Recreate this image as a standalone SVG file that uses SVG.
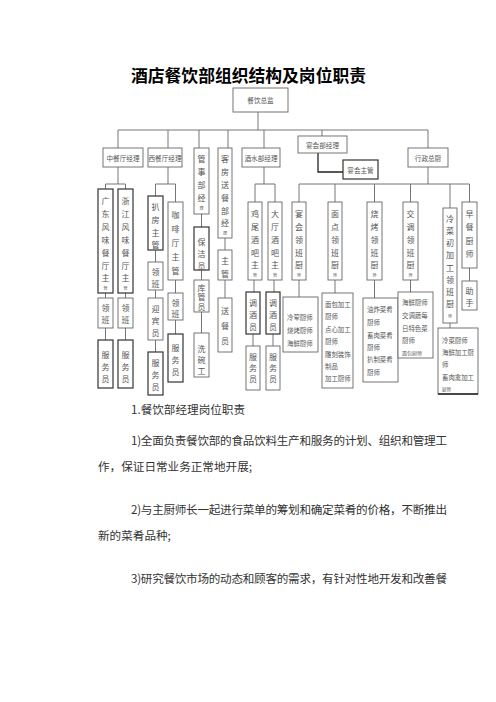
<svg xmlns="http://www.w3.org/2000/svg" width="496" height="702" viewBox="0 0 496 702">
<style>
.b{fill:#fff;stroke:#666;stroke-width:0.9}
.k{fill:#fff;stroke:#333;stroke-width:1.2}
.c{fill:none;stroke:#666;stroke-width:0.9}
.t{font-family:"Noto Sans CJK SC","Noto Sans CJK TC",sans-serif;font-size:8px;fill:#555;text-anchor:middle;dominant-baseline:central}
.h{font-size:6.6px}
.s{font-size:4px}
.d{font-family:"Noto Sans CJK SC",sans-serif;font-size:6.4px;fill:#555;dominant-baseline:central}
.p{font-family:"Noto Sans CJK SC",sans-serif;font-size:11.6px;fill:#333;dominant-baseline:central}
</style>
<rect width="496" height="702" fill="#fff"/>
<text x="248.5" y="75" text-anchor="middle" dominant-baseline="central" font-family="Noto Sans CJK SC,sans-serif" font-weight="bold" font-size="16.8" textLength="235" fill="#000">酒店餐饮部组织结构及岗位职责</text>

<g id="connectors" class="c">
<path d="M258 112V130M118 130H428M118 130V148M168 130V148M199 130V148M228 130V148M264 130V148M322 130V136M428 130V148"/>
<path d="M118 167V184M105.5 184H125.5M105.5 184V189M125.5 184V189M105.5 293V298M125.5 293V298M105.5 328V340M125.5 328V340"/>
<path d="M168 167V184M155.5 184H175.5M155.5 184V196M175.5 184V202M155.5 250V262M155.5 290V298M155.5 340V352M175.5 280V293M175.5 320V334"/>
<path d="M201.5 214V227M201.5 270V280M201.5 312V333M225 238V250M225 280V298"/>
<path d="M264 167V184M255 184H275M255 184V202M275 184V202M254 280V292M274 280V292M253 334V346M273 334V346"/>
<path d="M428 167V184M299 184H469.5M299 184V202M335 184V202M374.5 184V202M410.5 184V202M450 184V208M469.5 184V202"/>
<path d="M299 280V297M335 280V293M374.5 280V298M410.5 280V292M450 323V328M469.5 268V281"/>
<path d="M318 153V172H343" stroke="#222" stroke-width="1.3"/>
</g>

<g id="n-zongjian"><rect class="b" x="233" y="88" width="55" height="24"/><text class="t h" x="260.5" y="100">餐饮总监</text></g>
<g id="n-zhongcan"><rect class="b" x="103" y="148" width="40" height="19"/><text class="t h" x="123" y="157.5">中餐厅经理</text></g>
<g id="n-xican"><rect class="b" x="148" y="148" width="34" height="19"/><text class="t h" x="165" y="157.5">西餐厅经理</text></g>
<g id="n-guanshi"><rect class="b" x="194" y="148" width="15" height="66"/><text class="t"><tspan x="201.5" y="158">管</tspan><tspan x="201.5" y="171">事</tspan><tspan x="201.5" y="184">部</tspan><tspan x="201.5" y="197">经</tspan><tspan class="s" x="201.5" y="208">理</tspan></text></g>
<g id="n-kefang"><rect class="b" x="218" y="148" width="14" height="90"/><text class="t"><tspan x="225" y="158">客</tspan><tspan x="225" y="171">房</tspan><tspan x="225" y="184">送</tspan><tspan x="225" y="197">餐</tspan><tspan x="225" y="210">部</tspan><tspan x="225" y="222">经</tspan><tspan class="s" x="225" y="233">理</tspan></text></g>
<g id="n-jiushui"><rect class="b" x="242" y="148" width="38" height="19"/><text class="t h" x="261" y="157.5">酒水部经理</text></g>
<g id="n-yanhui"><rect class="b" x="298" y="136" width="49" height="17"/><text class="t h" x="322.5" y="144.5">宴会部经理</text></g>
<g id="n-yanhuizhuguan"><rect class="k" x="343" y="160" width="35" height="19"/><text class="t h" x="360.5" y="169.5">宴会主管</text></g>
<g id="n-xingzheng"><rect class="b" x="408" y="148" width="40" height="19"/><text class="t h" x="428" y="157.5">行政总厨</text></g>

<g id="n-guangdong"><rect class="k" x="98" y="189" width="15" height="104"/><text class="t"><tspan x="105.5" y="200">广</tspan><tspan x="105.5" y="213">东</tspan><tspan x="105.5" y="226">风</tspan><tspan x="105.5" y="239">味</tspan><tspan x="105.5" y="252">餐</tspan><tspan x="105.5" y="265">厅</tspan><tspan x="105.5" y="277">主</tspan><tspan class="s" x="105.5" y="288">管</tspan></text></g>
<g id="n-zhejiang"><rect class="k" x="118" y="189" width="15" height="104"/><text class="t"><tspan x="125.5" y="200">浙</tspan><tspan x="125.5" y="213">江</tspan><tspan x="125.5" y="226">风</tspan><tspan x="125.5" y="239">味</tspan><tspan x="125.5" y="252">餐</tspan><tspan x="125.5" y="265">厅</tspan><tspan x="125.5" y="277">主</tspan><tspan class="s" x="125.5" y="288">管</tspan></text></g>
<g id="n-lingban1"><rect class="b" x="98" y="298" width="15" height="30"/><text class="t"><tspan x="105.5" y="307">领</tspan><tspan x="105.5" y="319">班</tspan></text></g>
<g id="n-lingban2"><rect class="b" x="118" y="298" width="15" height="30"/><text class="t"><tspan x="125.5" y="307">领</tspan><tspan x="125.5" y="319">班</tspan></text></g>
<g id="n-fuwu1"><rect class="k" x="98" y="340" width="15" height="48"/><text class="t"><tspan x="105.5" y="354">服</tspan><tspan x="105.5" y="366">务</tspan><tspan x="105.5" y="378">员</tspan></text></g>
<g id="n-fuwu2"><rect class="k" x="118" y="340" width="15" height="48"/><text class="t"><tspan x="125.5" y="354">服</tspan><tspan x="125.5" y="366">务</tspan><tspan x="125.5" y="378">员</tspan></text></g>

<g id="n-pafang"><rect class="k" x="148" y="196" width="15" height="54"/><text class="t"><tspan x="155.5" y="206">扒</tspan><tspan x="155.5" y="219">房</tspan><tspan x="155.5" y="232">主</tspan><tspan x="155.5" y="244">管</tspan></text></g>
<g id="n-lingban3"><rect class="b" x="148" y="262" width="15" height="28"/><text class="t"><tspan x="155.5" y="271">领</tspan><tspan x="155.5" y="283">班</tspan></text></g>
<g id="n-yingbin"><rect class="b" x="148" y="298" width="15" height="42"/><text class="t"><tspan x="155.5" y="308">迎</tspan><tspan x="155.5" y="320">宾</tspan><tspan x="155.5" y="332">员</tspan></text></g>
<g id="n-fuwu3"><rect class="k" x="148" y="352" width="15" height="43"/><text class="t"><tspan x="155.5" y="362">服</tspan><tspan x="155.5" y="374">务</tspan><tspan x="155.5" y="386">员</tspan></text></g>
<g id="n-kafei"><rect class="b" x="168" y="202" width="15" height="78"/><text class="t"><tspan x="175.5" y="214">咖</tspan><tspan x="175.5" y="228">啡</tspan><tspan x="175.5" y="242">厅</tspan><tspan x="175.5" y="256">主</tspan><tspan x="175.5" y="270">管</tspan></text></g>
<g id="n-lingban4"><rect class="b" x="168" y="293" width="15" height="27"/><text class="t"><tspan x="175.5" y="302">领</tspan><tspan x="175.5" y="313">班</tspan></text></g>
<g id="n-fuwu4"><rect class="k" x="168" y="334" width="15" height="48"/><text class="t"><tspan x="175.5" y="347">服</tspan><tspan x="175.5" y="359">务</tspan><tspan x="175.5" y="371">员</tspan></text></g>

<g id="n-baojie"><rect class="k" x="194" y="227" width="15" height="43"/><text class="t"><tspan x="201.5" y="241">保</tspan><tspan x="201.5" y="253">洁</tspan><tspan x="201.5" y="265">员</tspan></text></g>
<g id="n-kuguan"><rect class="b" x="194" y="280" width="15" height="32"/><text class="t" font-size="6.2"><tspan x="201.5" y="286.5">库</tspan><tspan x="201.5" y="296">管</tspan><tspan x="201.5" y="305.5">员</tspan></text></g>
<g id="n-xiwan"><rect class="b" x="194" y="333" width="15" height="44"/><text class="t"><tspan x="201.5" y="348">洗</tspan><tspan x="201.5" y="359">碗</tspan><tspan x="201.5" y="370">工</tspan></text></g>
<g id="n-zhuguan"><rect class="b" x="218" y="250" width="14" height="30"/><text class="t"><tspan x="225" y="260">主</tspan><tspan x="225" y="273">管</tspan></text></g>
<g id="n-songcan"><rect class="b" x="218" y="298" width="14" height="54"/><text class="t"><tspan x="225" y="310">送</tspan><tspan x="225" y="325">餐</tspan><tspan x="225" y="340">员</tspan></text></g>

<g id="n-jiwei"><rect class="b" x="248" y="202" width="14" height="78"/><text class="t"><tspan x="255" y="213">鸡</tspan><tspan x="255" y="226">尾</tspan><tspan x="255" y="239">酒</tspan><tspan x="255" y="252">吧</tspan><tspan x="255" y="264">主</tspan><tspan class="s" x="255" y="275">管</tspan></text></g>
<g id="n-dating"><rect class="b" x="268" y="202" width="14" height="78"/><text class="t"><tspan x="275" y="213">大</tspan><tspan x="275" y="226">厅</tspan><tspan x="275" y="239">酒</tspan><tspan x="275" y="252">吧</tspan><tspan x="275" y="264">主</tspan><tspan class="s" x="275" y="275">管</tspan></text></g>
<g id="n-tiaojiu1"><rect class="k" x="246" y="292" width="14" height="42"/><text class="t"><tspan x="253" y="302">调</tspan><tspan x="253" y="314">酒</tspan><tspan x="253" y="326">员</tspan></text></g>
<g id="n-tiaojiu2"><rect class="k" x="266" y="292" width="14" height="42"/><text class="t"><tspan x="273" y="302">调</tspan><tspan x="273" y="314">酒</tspan><tspan x="273" y="326">员</tspan></text></g>
<g id="n-fuwu5"><rect class="b" x="246" y="346" width="14" height="44"/><text class="t"><tspan x="253" y="356">服</tspan><tspan x="253" y="367">务</tspan><tspan x="253" y="378">员</tspan></text></g>
<g id="n-fuwu6"><rect class="b" x="266" y="346" width="14" height="44"/><text class="t"><tspan x="273" y="356">服</tspan><tspan x="273" y="367">务</tspan><tspan x="273" y="378">员</tspan></text></g>

<g id="n-yanhuichu"><rect class="b" x="292" y="202" width="14" height="78"/><text class="t"><tspan x="299" y="213">宴</tspan><tspan x="299" y="226">会</tspan><tspan x="299" y="239">领</tspan><tspan x="299" y="252">班</tspan><tspan x="299" y="264">厨</tspan><tspan class="s" x="299" y="275">师</tspan></text></g>
<g id="n-miandian"><rect class="b" x="328" y="202" width="14" height="78"/><text class="t"><tspan x="335" y="213">面</tspan><tspan x="335" y="226">点</tspan><tspan x="335" y="239">领</tspan><tspan x="335" y="252">班</tspan><tspan x="335" y="264">厨</tspan><tspan class="s" x="335" y="275">师</tspan></text></g>
<g id="n-shaokao"><rect class="b" x="367" y="202" width="15" height="78"/><text class="t"><tspan x="374.5" y="213">烧</tspan><tspan x="374.5" y="226">烤</tspan><tspan x="374.5" y="239">领</tspan><tspan x="374.5" y="252">班</tspan><tspan x="374.5" y="264">厨</tspan><tspan class="s" x="374.5" y="275">师</tspan></text></g>
<g id="n-jiaotiao"><rect class="b" x="403" y="202" width="15" height="78"/><text class="t"><tspan x="410.5" y="213">交</tspan><tspan x="410.5" y="226">调</tspan><tspan x="410.5" y="239">领</tspan><tspan x="410.5" y="252">班</tspan><tspan x="410.5" y="264">厨</tspan><tspan class="s" x="410.5" y="275">师</tspan></text></g>
<g id="n-lengcai"><rect class="b" x="443" y="208" width="14" height="115"/><text class="t"><tspan x="450" y="218">冷</tspan><tspan x="450" y="230">菜</tspan><tspan x="450" y="242">初</tspan><tspan x="450" y="254">加</tspan><tspan x="450" y="267">工</tspan><tspan x="450" y="279">领</tspan><tspan x="450" y="291">班</tspan><tspan x="450" y="303">厨</tspan><tspan class="s" x="450" y="316">师</tspan></text></g>
<g id="n-zaocan"><rect class="b" x="462" y="202" width="15" height="66"/><text class="t"><tspan x="469.5" y="213">早</tspan><tspan x="469.5" y="226">餐</tspan><tspan x="469.5" y="240">厨</tspan><tspan x="469.5" y="253">师</tspan></text></g>
<g id="n-zhushou"><rect class="b" x="462" y="281" width="15" height="29"/><text class="t"><tspan x="469.5" y="290">助</tspan><tspan x="469.5" y="302">手</tspan></text></g>

<g id="n-d-yanhui"><rect class="b" x="283" y="297" width="35" height="55"/><text class="d"><tspan x="287" y="317">冷荤厨师</tspan><tspan x="287" y="330">烧烤厨师</tspan><tspan x="287" y="343">海鲜厨师</tspan></text></g>
<g id="n-d-miandian"><rect class="b" x="322" y="293" width="31" height="95"/><text class="d"><tspan x="325" y="304">面包加工</tspan><tspan x="325" y="316">厨师</tspan><tspan x="325" y="329">点心加工</tspan><tspan x="325" y="341">厨师</tspan><tspan x="325" y="354">雕刻装饰</tspan><tspan x="325" y="366">制品</tspan><tspan x="325" y="378">加工厨师</tspan></text></g>
<g id="n-d-shaokao"><rect class="b" x="363" y="298" width="35" height="84"/><text class="d"><tspan x="367" y="309">油炸菜肴</tspan><tspan x="367" y="322">厨师</tspan><tspan x="367" y="335">畜肉菜肴</tspan><tspan x="367" y="347">厨师</tspan><tspan x="367" y="359">扒制菜肴</tspan><tspan x="367" y="372">厨师</tspan></text></g>
<g id="n-d-jiaotiao"><rect class="b" x="398" y="292" width="35" height="66"/><text class="d"><tspan x="402" y="302">海鲜厨师</tspan><tspan x="402" y="315">交调蔬每</tspan><tspan x="402" y="328">日特色菜</tspan><tspan x="402" y="340">厨师</tspan><tspan x="402" y="352" font-size="5">面包厨师</tspan></text></g>
<g id="n-d-lengcai"><rect class="b" x="438" y="328" width="40" height="66"/><path d="M438 394H478" stroke="#222" stroke-width="1.3"/><text class="d"><tspan x="442" y="340">冷菜厨师</tspan><tspan x="442" y="352">海鲜加工厨</tspan><tspan x="442" y="364">师</tspan><tspan x="442" y="377">畜肉禽加工</tspan><tspan x="442" y="389" font-size="4.5">厨师</tspan></text></g>

<g id="paragraphs">
<text class="p" x="131" y="409">1.餐饮部经理岗位职责</text>
<text class="p" x="131" y="440" textLength="316" lengthAdjust="spacing">1)全面负责餐饮部的食品饮料生产和服务的计划、组织和管理工</text>
<text class="p" x="98" y="466">作，保证日常业务正常地开展;</text>
<text class="p" x="131" y="509" textLength="316" lengthAdjust="spacing">2)与主厨师长一起进行菜单的筹划和确定菜肴的价格，不断推出</text>
<text class="p" x="98" y="535">新的菜肴品种;</text>
<text class="p" x="131" y="578" textLength="316" lengthAdjust="spacing">3)研究餐饮市场的动态和顾客的需求，有针对性地开发和改善餐</text>
</g>
</svg>
